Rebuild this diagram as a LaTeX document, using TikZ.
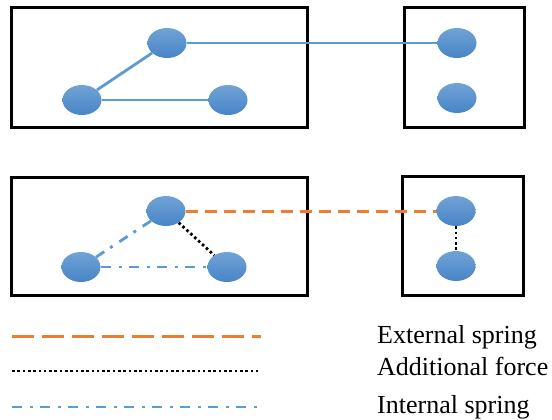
\documentclass[tikz,border=0pt]{standalone}
\usepackage{fontspec}
\setmainfont{Liberation Serif}
\usetikzlibrary{shapes.geometric}
\definecolor{nodetop}{RGB}{112,163,214}
\definecolor{nodebot}{RGB}{72,132,198}
\definecolor{springblue}{RGB}{91,155,213}
\definecolor{springorange}{RGB}{237,125,49}
\tikzset{
  frame/.style={draw=black, line width=3pt},
  mass/.style={ellipse, minimum width=39pt, minimum height=30pt, inner sep=0pt,
    top color=nodetop, bottom color=nodebot, draw=none},
  solidspring/.style={draw=springblue, line width=2.8pt},
  extspring/.style={draw=springorange, line width=3pt, dash pattern=on 12pt off 7pt},
  extlegend/.style={draw=springorange, line width=3pt, dash pattern=on 22pt off 8pt},
  addforce/.style={draw=black, line width=2.8pt, dash pattern=on 2.6pt off 2.7pt},
  intspring/.style={draw=springblue, line width=2.8pt, dash pattern=on 10pt off 8pt on 3pt off 7pt},
  legendtext/.style={anchor=base west, inner sep=0pt, font=\fontsize{26}{30}\selectfont}
}
\begin{document}
\begin{tikzpicture}[x=1pt,y=-1pt]
\useasboundingbox (0,0) rectangle (552,420);
% frames
\draw[frame] (11,8) rectangle (307,127);
\draw[frame] (404,8) rectangle (524,127);
\draw[frame] (11,177) rectangle (307,295);
\draw[frame] (402,176) rectangle (523,295);
% top row nodes
\node[mass] (a1) at (167,43) {};
\node[mass] (a2) at (82,100) {};
\node[mass] (a3) at (228,100) {};
\node[mass] (a4) at (457,43) {};
\node[mass] (a5) at (457,98) {};
\draw[solidspring] (a1) -- (a4);
\draw[solidspring] (a2) -- (a1);
\draw[solidspring] (a2) -- (a3);
% bottom row nodes
\node[mass] (b1) at (166,211) {};
\node[mass] (b2) at (81,267) {};
\node[mass] (b3) at (227,267) {};
\node[mass] (b4) at (456,211) {};
\node[mass] (b5) at (456,266) {};
\draw[extspring] (b1) -- (b4);
\draw[intspring] (b1) -- (b2);
\draw[intspring] (b2) -- (b3);
\draw[addforce] (b1) -- (b3);
\draw[addforce] (b4) -- (b5);
% legend
\coordinate (l1s) at (12,336); \coordinate (l1e) at (261,336);
\coordinate (l2s) at (12,371); \coordinate (l2e) at (260,371);
\coordinate (l3s) at (12,407); \coordinate (l3e) at (258,407);
\draw[extlegend] (l1s) -- (l1e);
\draw[addforce] (l2s) -- (l2e);
\draw[intspring] (l3s) -- (l3e);
\node[legendtext] (t1) at (377,343) {External spring};
\node[legendtext] (t2) at (377,375) {Additional force};
\node[legendtext] (t3) at (377,413) {Internal spring};
\end{tikzpicture}
\end{document}
